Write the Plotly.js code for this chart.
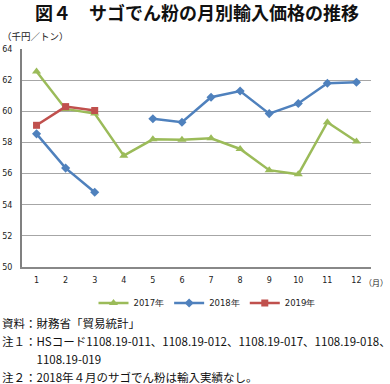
<!DOCTYPE html>
<html>
<head>
<meta charset="utf-8">
<script src="https://cdn.plot.ly/plotly-3.0.1.min.js"></script>
<style>
html,body{margin:0;padding:0;background:#fff;}
#chart{width:390px;height:384px;}
</style>
</head>
<body>
<div id="chart"></div>
<script>
// ---- data ----
const months = [1,2,3,4,5,6,7,8,9,10,11,12];
const monthLabels = ["1","2","3","4","5","6","7","8","9","10","11","12"];
const s2017 = [62.55,60.15,59.85,57.15,58.2,58.18,58.27,57.58,56.22,55.95,59.3,58.06];
const s2018 = [58.55,56.35,54.8,null,59.52,59.3,60.9,61.3,59.85,60.5,61.8,61.86];
const s2019 = [59.1,60.3,60.05];
const months2019 = [1,2,3];
const seriesNames = ["2017年","2018年","2019年"];
const yTicks = [50,52,54,56,58,60,62,64];

const titleText = "図４　サゴでん粉の月別輸入価格の推移";
const yUnit = "（千円／トン）";
const xUnit = "（月）";
const notes = [
  "資料：財務省「貿易統計」",
  "注１：HSコード1108.19-011、1108.19-012、1108.19-017、1108.19-018、",
  "　　　1108.19-019",
  "注２：2018年４月のサゴでん粉は輸入実績なし。"
];

// ---- layout geometry (pixels) ----
const W = 390, H = 384;
const M = {l:22, r:19, t:49, b:117};
const pw = W - M.l - M.r, ph = H - M.t - M.b;
const px = x => (x - M.l) / pw;
const py = y => (H - M.b - y) / ph;

const jp = '"Noto Sans CJK JP", "Noto Sans", sans-serif';
const num = '"DejaVu Sans", Verdana, sans-serif';

const traces = [
  {x: months, y: s2017, name: seriesNames[0], type:'scatter', mode:'lines+markers',
   line:{color:'#9BBB59', width:2.5}, marker:{symbol:'triangle-up', size:8, color:'#9BBB59'}},
  {x: months, y: s2018, name: seriesNames[1], type:'scatter', mode:'lines+markers',
   line:{color:'#4F81BD', width:2.5}, marker:{symbol:'diamond', size:7, color:'#4F81BD'}},
  {x: months2019, y: s2019, name: seriesNames[2], type:'scatter', mode:'lines+markers',
   line:{color:'#C0504D', width:2.5}, marker:{symbol:'square', size:7, color:'#C0504D'}}
];

const annotations = [
  {text: yUnit, xref:'paper', yref:'paper', x:px(0), y:py(36), xanchor:'left', yanchor:'middle',
   showarrow:false, font:{family:jp, size:9.5, color:'#222'}},
  {text: xUnit, xref:'paper', yref:'paper', x:px(390), y:py(282), xanchor:'right', yanchor:'middle',
   showarrow:false, font:{family:jp, size:8, color:'#222'}}
];
const noteY = [323, 341, 359, 377];
notes.forEach((t,i) => annotations.push({
  text: t, xref:'paper', yref:'paper', x:px(0), y:py(noteY[i]), xanchor:'left', yanchor:'middle',
  showarrow:false, font:{family:jp, size:11.5, color:'#111'}
}));

const layout = {
  width: W, height: H,
  margin: M,
  paper_bgcolor:'#fff', plot_bgcolor:'#fff',
  showlegend: true,
  title: {text: '<b>' + titleText + '</b>', x: 0.505, xanchor:'center', y: 1 - 14/H, yanchor:'middle',
          font:{family:jp, size:18, color:'#111'}},
  xaxis: {range:[0.5,12.5], tickvals: months, ticktext: monthLabels, showgrid:false, zeroline:false,
          showline:true, linecolor:'#888', linewidth:1.5, ticks:'outside', ticklen:5, tickcolor:'rgba(0,0,0,0)',
          tickfont:{family:num, size:8, color:'#222'}, fixedrange:true},
  yaxis: {range:[50,64], tickvals: yTicks, showgrid:true, gridcolor:'#a6a6a6', gridwidth:1, zeroline:false,
          showline:true, linecolor:'#808080', linewidth:2, ticks:'outside', ticklen:6, tickcolor:'rgba(0,0,0,0)',
          tickfont:{family:num, size:8, color:'#222'}, fixedrange:true},
  legend: {orientation:'h', x: px(207), xanchor:'center', y: py(303), yanchor:'middle',
           font:{family:num, size:8.5, color:'#222'}, itemwidth:30, tracegroupgap:0},
  annotations: annotations
};

Plotly.newPlot('chart', traces, layout, {displayModeBar:false, staticPlot:true});
</script>
</body>
</html>
